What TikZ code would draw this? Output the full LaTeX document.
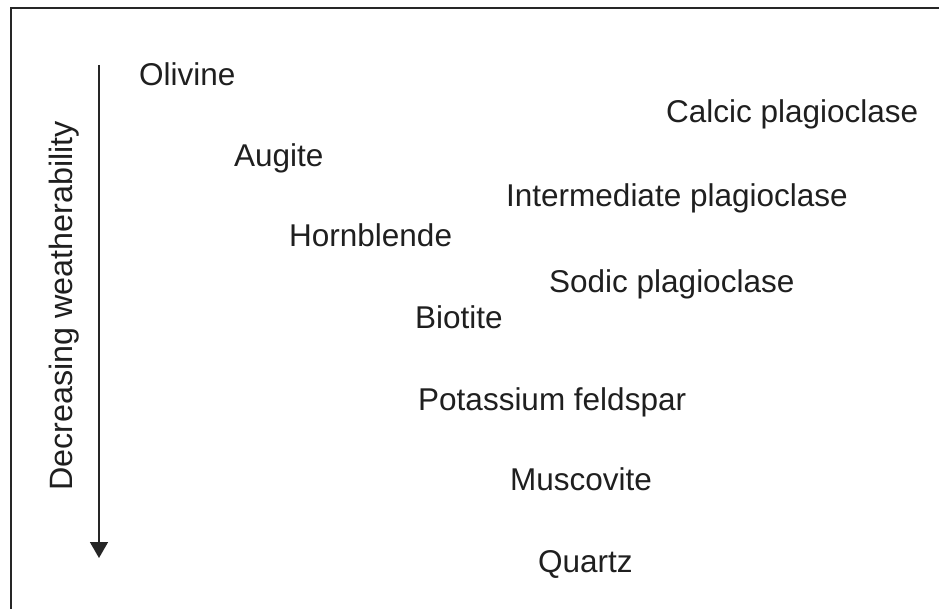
\documentclass[tikz,border=0pt]{standalone}
\usepackage{fontspec}
\setmainfont{Liberation Sans}
\usepackage{xcolor}
\usepackage{tikz}
\usetikzlibrary{arrows.meta,positioning}

\begin{document}
\begin{tikzpicture}[x=1pt,y=-1pt,
    mineral/.style={anchor=base west, inner sep=0pt, text=black!88, font=\fontsize{31.5}{37}\selectfont}]
\useasboundingbox (0,0) rectangle (939,609);
% frame (cut off at right and bottom)
\draw[line width=2.5pt, black!85] (11,609) -- (11,8) -- (939,8);

% weatherability axis
\coordinate (axtop) at (99,65);
\coordinate (axbot) at (99,558);
\draw[line width=1.6pt, black!85, -{Triangle[width=18pt,length=16pt]}] (axtop) -- (axbot);
\node[rotate=90, anchor=base, inner sep=0pt, text=black!88, font=\fontsize{32.3}{38}\selectfont] (axlabel) at (72,306) {Decreasing weatherability};

% minerals
\node[mineral] (olivine) at (139,86) {Olivine};
\node[mineral] (calcic) at (666,123) {Calcic plagioclase};
\node[mineral] (augite) at (234,167) {Augite};
\node[mineral] (intermed) at (506,207) {Intermediate plagioclase};
\node[mineral] (hornblende) at (289,247) {Hornblende};
\node[mineral] (sodic) at (549,293) {Sodic plagioclase};
\node[mineral] (biotite) at (415,329) {Biotite};
\node[mineral] (kfeldspar) at (418,410) {Potassium feldspar};
\node[mineral] (muscovite) at (510,490) {Muscovite};
\node[mineral] (quartz) at (538,572) {Quartz};
\end{tikzpicture}
\end{document}
